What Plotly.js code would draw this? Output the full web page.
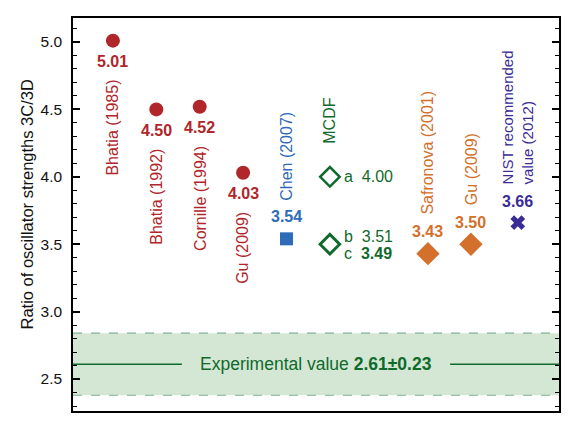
<!DOCTYPE html>
<html><head><meta charset="utf-8">
<script src="https://cdn.plot.ly/plotly-3.0.1.min.js"></script>
<style>html,body{margin:0;padding:0;background:#fff}#c{width:576px;height:428px}</style>
</head><body><div id="c"></div>
<script>
// Theory references (red circles)
const redNames = ['Bhatia (1985)', 'Bhatia (1992)', 'Cornille (1994)', 'Gu (2009)'];
const redX = [1, 2, 3, 4];
const redVals = [5.01, 4.50, 4.52, 4.03];
// Chen (blue square)
const chenName = 'Chen (2007)';
const chenX = 5;
const chenVal = 3.54;
// MCDF (green open diamonds)
const mcdfX = 6;
const mcdfLetters = ['a', 'b', 'c'];
const mcdfVals = [4.00, 3.51, 3.49];
// Orange diamonds
const orNames = ['Safronova (2001)', 'Gu (2009)'];
const orX = [8.26, 9.25];
const orVals = [3.43, 3.50];
// NIST
const nistName = 'NIST recommended<br>value (2012)';
const nistX = 10.33;
const nistVal = 3.66;
// Experimental
const expVal = 2.61;
const expErr = 0.23;
// axis
const yTick0 = 2.5;
const yTickStep = 0.5;
const yMinorStep = 0.1;
const yTitle = 'Ratio of oscillator strengths 3C/3D';

const RED = '#b0262a', BLUE = '#2e6bb8', GREEN = '#0f6a2c', ORANGE = '#d2702c', NIST = '#3a2c95';
const FONT = 'Liberation Sans, Arial, Helvetica, sans-serif';

const traces = [
  {x: redX, y: redVals, mode: 'markers', marker: {symbol: 'circle', size: 14, color: RED}},
  {x: [chenX], y: [chenVal], mode: 'markers', marker: {symbol: 'square', size: 13, color: BLUE}},
  {x: [mcdfX], y: [mcdfVals[0]], mode: 'markers', marker: {symbol: 'diamond-open', size: 15, color: GREEN, line: {width: 2.5, color: GREEN}}},
  {x: [mcdfX], y: [(mcdfVals[1] + mcdfVals[2]) / 2], mode: 'markers', marker: {symbol: 'diamond-open', size: 15, color: GREEN, line: {width: 3, color: GREEN}}},
  {x: orX, y: orVals, mode: 'markers', marker: {symbol: 'diamond', size: 18, color: ORANGE}},
  {x: [nistX], y: [nistVal], mode: 'markers', marker: {symbol: 'x', size: 13, color: NIST}}
];

const ann = [];
function val(x, y, txt, color, ys) {
  ann.push({x: x, y: y, text: '<b>' + txt + '</b>', showarrow: false, yshift: ys, xanchor: 'center', yanchor: 'middle',
    font: {family: FONT, size: 16, color: color}});
}
function name(x, y, txt, color, ys, anchor, size) {
  ann.push({x: x, y: y, text: txt, showarrow: false, textangle: -90, yshift: ys, xanchor: 'center', yanchor: anchor, align: 'left',
    font: {family: FONT, size: size || 16, color: color}});
}
redX.forEach((x, i) => {
  val(x, redVals[i], redVals[i].toFixed(2), RED, -21);
  name(x, redVals[i], redNames[i], RED, -37, 'top');
});
val(chenX, chenVal, chenVal.toFixed(2), BLUE, 22);
name(chenX, chenVal, chenName, BLUE, 36, 'bottom');
orX.forEach((x, i) => {
  val(x, orVals[i], orVals[i].toFixed(2), ORANGE, 22);
  name(x, orVals[i], orNames[i], ORANGE, 37, 'bottom');
});
val(nistX, nistVal, nistVal.toFixed(2), NIST, 21);
name(nistX, nistVal, nistName, NIST, 36, 'bottom', 15);
name(mcdfX, mcdfVals[0], 'MCDF', GREEN, 31, 'bottom');
const mcdfShift = [0, 6, -8];
mcdfVals.forEach((v, i) => {
  const num = i === 2 ? '<b>' + v.toFixed(2) + '</b>' : v.toFixed(2);
  ann.push({x: mcdfX, y: v, text: mcdfLetters[i] + '  ' + num, showarrow: false, xanchor: 'left', yanchor: 'middle',
    xshift: 12, yshift: mcdfShift[i], font: {family: FONT, size: 16, color: GREEN}});
});
ann.push({xref: 'paper', x: 0.5, y: expVal, text: 'Experimental value <b>' + expVal.toFixed(2) + '±' + expErr.toFixed(2) + '</b>',
  showarrow: false, xanchor: 'center', yanchor: 'middle', font: {family: FONT, size: 17.5, color: GREEN}});
// y-axis title placed as rotated text
ann.push({xref: 'paper', yref: 'paper', x: -0.095, y: 0.525, text: yTitle, textangle: -90, showarrow: false,
  xanchor: 'center', yanchor: 'middle', font: {family: FONT, size: 16.5, color: '#111'}});

const shapes = [
  {type: 'rect', xref: 'paper', x0: 0, x1: 1, y0: expVal - expErr, y1: expVal + expErr, fillcolor: '#d4e7d4', line: {width: 0}, layer: 'below'},
  {type: 'line', xref: 'paper', x0: 0, x1: 1, y0: expVal + expErr, y1: expVal + expErr, line: {color: '#80b392', width: 1.2, dash: 'dash'}, layer: 'below'},
  {type: 'line', xref: 'paper', x0: 0, x1: 1, y0: expVal - expErr, y1: expVal - expErr, line: {color: '#80b392', width: 1.2, dash: 'dash'}, layer: 'below'},
  {type: 'line', xref: 'paper', x0: 0, x1: 0.224, y0: expVal, y1: expVal, line: {color: GREEN, width: 1.6}, layer: 'below'},
  {type: 'line', xref: 'paper', x0: 0.776, x1: 1, y0: expVal, y1: expVal, line: {color: GREEN, width: 1.6}, layer: 'below'}
];

const layout = {
  width: 576, height: 428,
  margin: {l: 73, r: 17, t: 18, b: 17},
  paper_bgcolor: '#fff', plot_bgcolor: '#fff',
  showlegend: false,
  xaxis: {range: [0.08, 11.28], showticklabels: false, ticks: '', showgrid: false, zeroline: false,
    showline: true, mirror: true, linecolor: '#000', linewidth: 1.6},
  yaxis: {range: [2.263, 5.178], tickmode: 'linear', tick0: yTick0, dtick: yTickStep, tickformat: '.1f',
    ticks: 'inside', ticklen: 7, tickwidth: 1.5, tickcolor: '#000',
    minor: {tickmode: 'linear', tick0: yTick0, dtick: yMinorStep, ticks: 'inside', ticklen: 4, tickwidth: 1.2, tickcolor: '#000', showgrid: false},
    showgrid: false, zeroline: false, showline: true, mirror: 'ticks', linecolor: '#000', linewidth: 1.6,
    ticklabelstandoff: 6,
    tickfont: {family: FONT, size: 15.5, color: '#111'}},
  annotations: ann,
  shapes: shapes
};
Plotly.newPlot('c', traces, layout, {displayModeBar: false});
</script></body></html>
